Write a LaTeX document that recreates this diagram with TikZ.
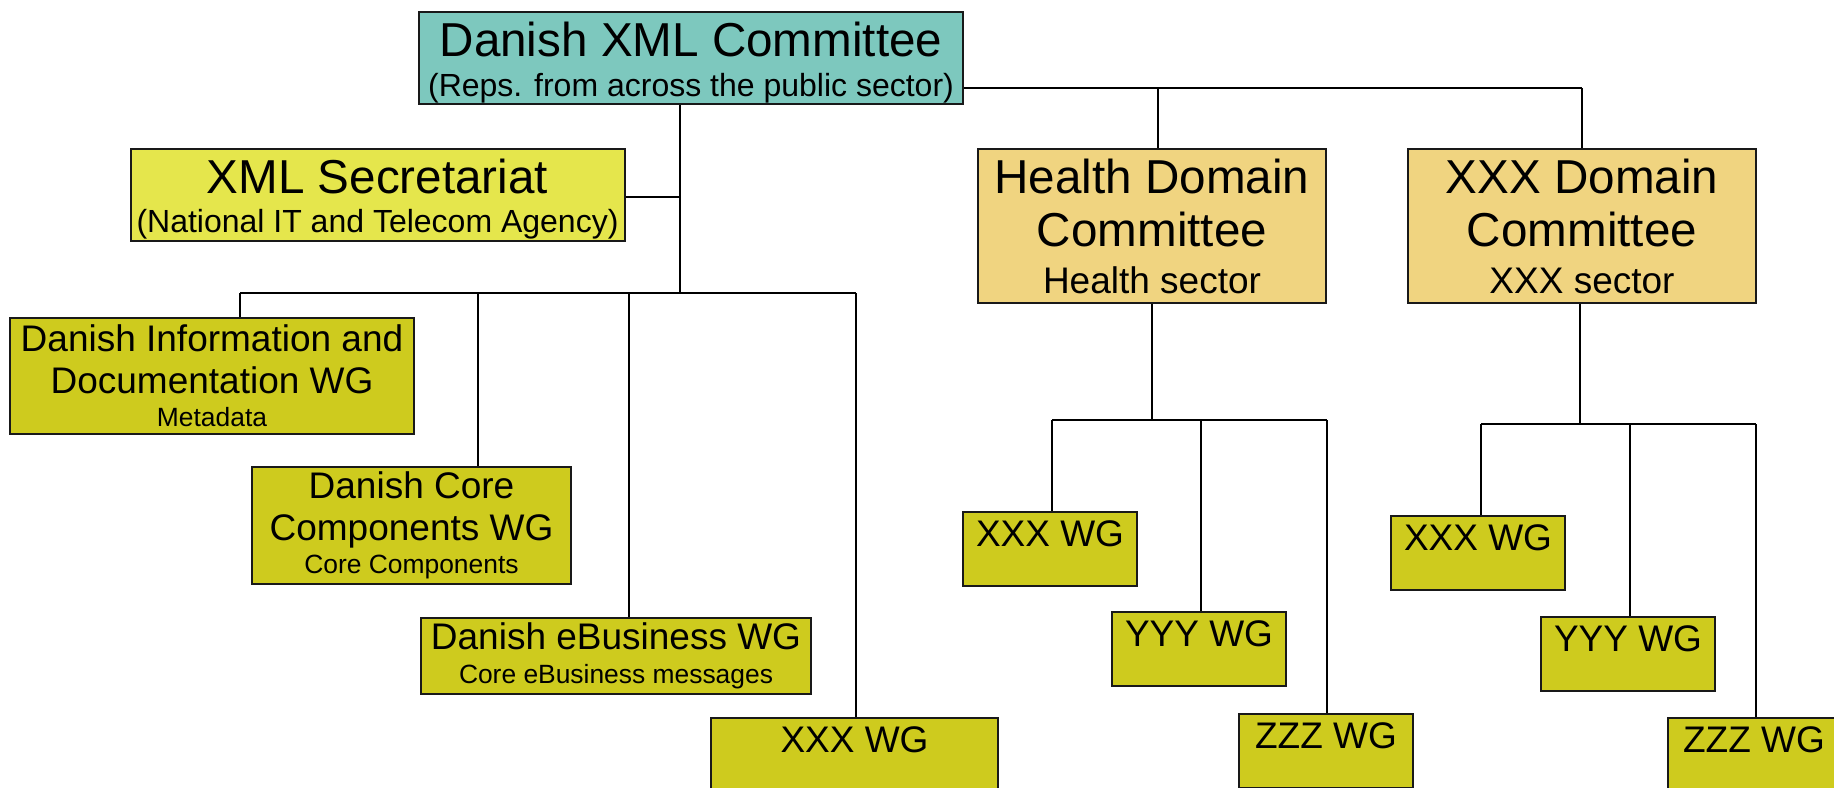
\documentclass[tikz,border=0pt]{standalone}
\usepackage{fontspec}
\setmainfont{Liberation Sans}
\definecolor{committee}{HTML}{7DC8BE}
\definecolor{secretariat}{HTML}{E5E64C}
\definecolor{domain}{HTML}{F0D480}
\definecolor{workgroup}{HTML}{CECB1E}
\newcommand\hugefont{\fontsize{23.8}{26.7}\selectfont}
\newcommand\midfont{\fontsize{18.5}{21}\selectfont}
\newcommand\subfont{\fontsize{16}{19}\selectfont}
\newcommand\notefont{\fontsize{13.2}{15}\selectfont}
\tikzset{
    orgbox/.style={draw=black!90, line width=1pt, anchor=north west, inner sep=0pt, align=center},
    bigbox/.style={orgbox, font=\hugefont},
    wgbox/.style={orgbox, fill=workgroup, font=\midfont},
    smallwg/.style={wgbox, minimum width=87pt, text height=17pt, text depth=19.75pt},
    link/.style={line width=0.75pt}
}
\begin{document}
\begin{tikzpicture}[x=0.5pt, y=-0.5pt]
    \useasboundingbox (0,0) rectangle (1834,787);
    \clip (0,0) rectangle (1834,787);
    \node[bigbox, fill=committee, minimum width=272pt, minimum height=46pt] (dxc) at (418,11) {\rule{0pt}{21.4pt}Danish XML Committee\\[-6.7pt]{\subfont (Reps. from across the public sector)}};
    \node[bigbox, fill=secretariat, minimum width=247pt, minimum height=46pt] (sec) at (129.5,148) {\rule{0pt}{21.6pt}XML Secretariat\\[-7.2pt]{\subfont (National IT and Telecom Agency)}};
    \node[bigbox, fill=domain, minimum width=174pt, minimum height=77pt] (hdc) at (977,148) {Health Domain\\Committee\\[-3.35pt]{\midfont Health sector}};
    \node[bigbox, fill=domain, minimum width=174pt, minimum height=77pt] (xdc) at (1407,148) {XXX Domain\\Committee\\[-3.35pt]{\midfont XXX sector}};
    \node[wgbox, minimum width=202pt, minimum height=58pt] (dinfo) at (9,317) {Danish Information and\\Documentation WG\\[-4.5pt]{\notefont Metadata}};
    \node[wgbox, minimum width=159.5pt, minimum height=58.5pt] (dcore) at (251,466) {Danish Core\\Components WG\\[-4.8pt]{\notefont Core Components}};
    \node[wgbox, minimum width=195pt, minimum height=38pt] (debus) at (420,617) {Danish eBusiness WG\\[-3.8pt]{\notefont Core eBusiness messages}};
    \node[smallwg, minimum width=143.5pt] (wgx) at (710,717) {XXX WG};
    \node[smallwg] (hx) at (962,511) {XXX WG};
    \node[smallwg] (hy) at (1111,611) {YYY WG};
    \node[smallwg] (hz) at (1238,713) {ZZZ WG};
    \node[smallwg] (xx) at (1390,515) {XXX WG};
    \node[smallwg] (xy) at (1540,616) {YYY WG};
    \node[smallwg, minimum width=86pt] (xz) at (1667,717) {ZZZ WG};
    \coordinate (j0) at (680,293);
    \coordinate (js) at (680,197);
    \coordinate (j1) at (240,293);
    \coordinate (j2) at (478,293);
    \coordinate (j3) at (629,293);
    \coordinate (j4) at (856,293);
    \coordinate (jh) at (1158,88);
    \coordinate (jx) at (1582,88);
    \coordinate (kh) at (1152,420);
    \coordinate (k1) at (1052,420);
    \coordinate (k2) at (1201,420);
    \coordinate (k3) at (1327,420);
    \coordinate (kx) at (1580,424);
    \coordinate (m1) at (1481,424);
    \coordinate (m2) at (1630,424);
    \coordinate (m3) at (1756,424);
    \draw[link] (j0 |- dxc.south) -- (j0);
    \draw[link] (js -| sec.east) -- (js);
    \draw[link] (j1) -- (j4);
    \draw[link] (jh -| dxc.east) -- (jx);
    \draw[link] (kh |- hdc.south) -- (kh);
    \draw[link] (k1) -- (k3);
    \draw[link] (kx |- xdc.south) -- (kx);
    \draw[link] (m1) -- (m3);
    \foreach \from/\to in {j1/dinfo, j2/dcore, j3/debus, j4/wgx, jh/hdc, jx/xdc, k1/hx, k2/hy, k3/hz, m1/xx, m2/xy, m3/xz}
        \draw[link] (\from) -- (\from |- \to.north);
\end{tikzpicture}
\end{document}
